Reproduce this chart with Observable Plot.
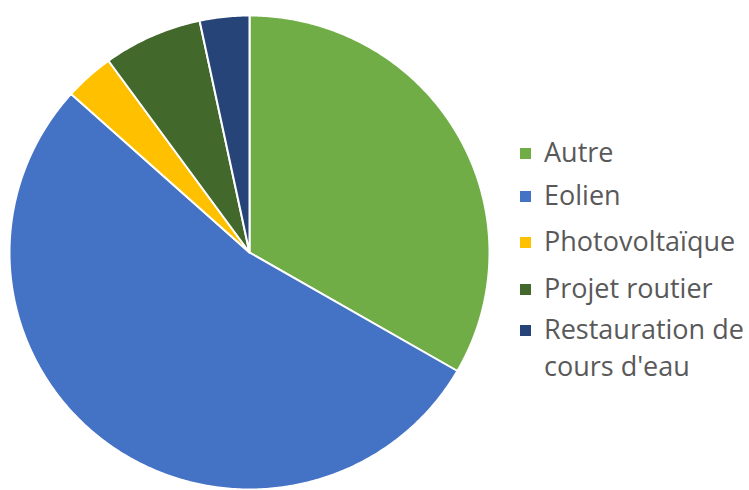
<!DOCTYPE html>
<html>
<head>
<meta charset="utf-8">
<script src="https://cdn.jsdelivr.net/npm/d3@7"></script>
<script src="https://cdn.jsdelivr.net/npm/@observablehq/plot@0.6"></script>
<style>
  html, body { margin: 0; padding: 0; background: #ffffff; }
  #wrap { position: relative; width: 749px; height: 490px; overflow: hidden; }
  #legend { position: absolute; left: 520px; top: 131px; font-family: "Open Sans", sans-serif; font-size: 27px; color: #595959; }
  .item { display: flex; align-items: flex-start; height: 44.5px; }
  .item:nth-child(1) { height: 43px; }
  .item:nth-child(2) { height: 46px; }
  .item:nth-child(3) { height: 47px; }
  .item:nth-child(4) { height: 41px; }
  .sw { width: 11px; height: 11px; margin-top: 17px; margin-right: 13px; flex: none; }
  .lbl { line-height: 37px; white-space: pre; margin-top: 2px; }
</style>
</head>
<body>
<div id="wrap"></div>
<script>
const categories = ["Autre", "Eolien", "Photovoltaïque", "Projet routier", "Restauration de cours d'eau"];
const legendLabels = ["Autre", "Eolien", "Photovoltaïque", "Projet routier", "Restauration de\ncours d'eau"];
const values = [10, 16, 1, 2, 1];
const colors = ["#70AD47", "#4472C4", "#FFC000", "#43682B", "#264478"];

const pie = d3.pie().sort(null).value(d => d.value);
const arcs = pie(categories.map((c, i) => ({category: c, value: values[i]})));

const pts = [];
for (const a of arcs) {
  const n = Math.max(2, Math.ceil((a.endAngle - a.startAngle) / 0.01));
  pts.push({category: a.data.category, x: 0, y: 0});
  for (let k = 0; k <= n; k++) {
    const t = a.startAngle + (a.endAngle - a.startAngle) * k / n;
    pts.push({category: a.data.category, x: Math.sin(t), y: Math.cos(t)});
  }
}

const chart = Plot.plot({
  width: 749,
  height: 490,
  margin: 0,
  x: {domain: [-1, 1], range: [9, 489], axis: null},
  y: {domain: [-1, 1], range: [489, 15], axis: null},
  color: {domain: categories, range: colors},
  style: {background: "#ffffff"},
  marks: [
    Plot.line(pts, {x: "x", y: "y", z: "category", fill: "category", stroke: "#ffffff", strokeWidth: 2, curve: "linear-closed"})
  ]
});

const wrap = document.getElementById("wrap");
wrap.appendChild(chart);
const legend = document.createElement("div");
legend.id = "legend";
legendLabels.forEach((l, i) => {
  const it = document.createElement("div");
  it.className = "item";
  const sw = document.createElement("div");
  sw.className = "sw";
  sw.style.background = colors[i];
  const lb = document.createElement("div");
  lb.className = "lbl";
  lb.textContent = l;
  it.appendChild(sw); it.appendChild(lb);
  legend.appendChild(it);
});
wrap.appendChild(legend);
</script>
</body>
</html>
